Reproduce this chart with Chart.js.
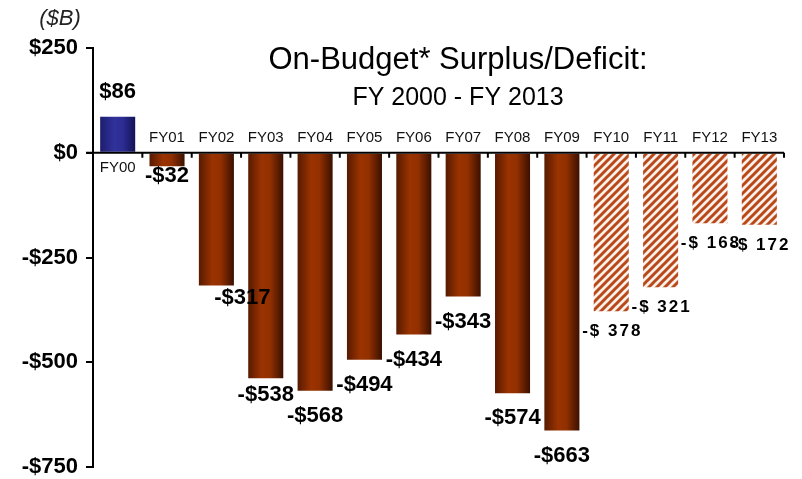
<!DOCTYPE html>
<html lang="en">

<head>
    <meta charset="UTF-8">
    <title>On-Budget Surplus/Deficit</title>
    <script src="https://cdn.jsdelivr.net/npm/chart.js"></script>
    <style>
        body {
            margin: 0;
            background: #fff;
        }

        #grafico {
            display: block;
        }
    </style>
</head>

<body>
    <canvas id="grafico" width="802" height="479"></canvas>

    <script>
        // Dados ($ bilhões)
        const categorias = ['FY00', 'FY01', 'FY02', 'FY03', 'FY04', 'FY05', 'FY06',
            'FY07', 'FY08', 'FY09', 'FY10', 'FY11', 'FY12', 'FY13'];
        const valores = [86, -32, -317, -538, -568, -494, -434, -343, -574, -663, -378, -321, -168, -172];
        const ticksY = [250, 0, -250, -500, -750];
        const inicioProjecao = 10; // FY10 em diante = barras hachuradas

        const fonte = "'Liberation Sans', Arial, sans-serif";
        const larguraBarra = 0.71;

        // ajuste fino da posição de alguns rótulos (dx, dy a partir da ponta da barra)
        const ajusteRotulo = {
            0: [0, -25], 1: [0, 10], 2: [26, 12], 3: [0, 17]
        };

        function formatar(v) {
            return (v < 0 ? '-$' : '$') + Math.abs(v);
        }

        // padrão hachurado
        let hachura = null;
        function criarHachura() {
            const s = 8;
            const c = document.createElement('canvas');
            c.width = s;
            c.height = s;
            const g = c.getContext('2d');
            g.fillStyle = '#fbf1ea';
            g.fillRect(0, 0, s, s);
            g.strokeStyle = '#b9481a';
            g.lineWidth = 3;
            g.beginPath();
            g.moveTo(-2, 2); g.lineTo(2, -2);
            g.moveTo(0, s); g.lineTo(s, 0);
            g.moveTo(s - 2, s + 2); g.lineTo(s + 2, s - 2);
            g.stroke();
            return g.createPattern(c, 'repeat');
        }

        // cor de cada barra: degradê horizontal ou hachura
        function corBarra(context) {
            const i = context.dataIndex;
            const chart = context.chart;
            if (i >= inicioProjecao) {
                if (!hachura) hachura = criarHachura();
                return hachura;
            }
            const area = chart.chartArea;
            if (!area) return '#933000';
            const passo = (area.right - area.left) / categorias.length;
            const cx = chart.scales.x.getPixelForValue(i);
            const w = passo * larguraBarra;
            const grad = chart.ctx.createLinearGradient(cx - w / 2, 0, cx + w / 2, 0);
            if (valores[i] > 0) {
                grad.addColorStop(0, '#1d1d6c');
                grad.addColorStop(0.4, '#31319c');
                grad.addColorStop(0.65, '#2c2c92');
                grad.addColorStop(1, '#131356');
            } else {
                grad.addColorStop(0, '#571a00');
                grad.addColorStop(0.38, '#9a3300');
                grad.addColorStop(0.62, '#933000');
                grad.addColorStop(1, '#3a1000');
            }
            return grad;
        }

        const pluginTextos = {
            id: 'textos',
            afterDatasetsDraw(chart) {
                const ctx = chart.ctx;
                const x = chart.scales.x;
                const y = chart.scales.y;
                const y0 = y.getPixelForValue(0);
                const area = chart.chartArea;

                ctx.save();
                // linha do zero + marcas
                ctx.strokeStyle = '#000';
                ctx.lineWidth = 2;
                ctx.beginPath();
                ctx.moveTo(area.left - 7, y0);
                ctx.lineTo(area.right, y0);
                for (let i = 1; i <= categorias.length; i++) {
                    const bx = area.left + (area.right - area.left) * i / categorias.length;
                    ctx.moveTo(bx, y0);
                    ctx.lineTo(bx, y0 + 5);
                }
                ctx.stroke();

                // rótulos das categorias
                ctx.fillStyle = '#111';
                ctx.font = '15px ' + fonte;
                ctx.textAlign = 'center';
                ctx.textBaseline = 'middle';
                categorias.forEach(function (c, i) {
                    const cx = x.getPixelForValue(i);
                    ctx.fillText(c, cx, valores[i] > 0 ? y0 + 15 : y0 - 15);
                });

                // rótulos de valores
                chart.getDatasetMeta(0).data.forEach(function (bar, i) {
                    const aj = ajusteRotulo[i] || (i >= inicioProjecao ? [0, 20] : [0, 25]);
                    ctx.fillStyle = '#000';
                    if (i >= inicioProjecao) {
                        ctx.font = 'bold 17px ' + fonte;
                        ctx.letterSpacing = '2px';
                        const t = '-$ ' + Math.abs(valores[i]);
                        ctx.fillText(t, bar.x + aj[0] + 1, bar.y + aj[1]);
                        ctx.letterSpacing = '0px';
                    } else {
                        ctx.font = 'bold 22px ' + fonte;
                        ctx.fillText(formatar(valores[i]), bar.x + aj[0], bar.y + aj[1]);
                    }
                });

                // títulos
                ctx.fillStyle = '#000';
                ctx.font = '31px ' + fonte;
                ctx.fillText('On-Budget* Surplus/Deficit:', 458, 60);
                ctx.font = '25px ' + fonte;
                ctx.fillText('FY 2000 - FY 2013', 458, 98);

                ctx.font = 'italic 22px ' + fonte;
                ctx.fillStyle = '#222';
                ctx.fillText('($B)', 60, 19);
                ctx.restore();
            }
        };

        const config = {
            type: 'bar',
            data: {
                labels: categorias,
                datasets: [{
                    data: valores,
                    backgroundColor: corBarra,
                    borderWidth: 0,
                    barPercentage: larguraBarra,
                    categoryPercentage: 1
                }]
            },
            options: {
                responsive: false,
                animation: false,
                layout: {
                    padding: { top: 48, right: 18, bottom: 12, left: 0 }
                },
                plugins: {
                    legend: { display: false },
                    tooltip: { enabled: false }
                },
                scales: {
                    x: {
                        display: false
                    },
                    y: {
                        min: -750,
                        max: 250,
                        afterBuildTicks: function (scale) {
                            scale.ticks = ticksY.map(v => ({ value: v }));
                        },
                        afterFit: function (scale) {
                            scale.width = 93;
                            scale.paddingTop = 0;
                            scale.paddingBottom = 0;
                        },
                        ticks: {
                            color: '#000',
                            padding: 8,
                            font: { family: fonte, size: 22, weight: 'bold' },
                            callback: function (v) {
                                return formatar(v);
                            }
                        },
                        grid: {
                            drawOnChartArea: false,
                            drawTicks: true,
                            tickLength: 7,
                            color: '#000',
                            lineWidth: 2
                        },
                        border: {
                            color: '#000',
                            width: 2
                        }
                    }
                }
            },
            plugins: [pluginTextos]
        };

        const myChart = new Chart(document.getElementById('grafico'), config);
    </script>
</body>

</html>
